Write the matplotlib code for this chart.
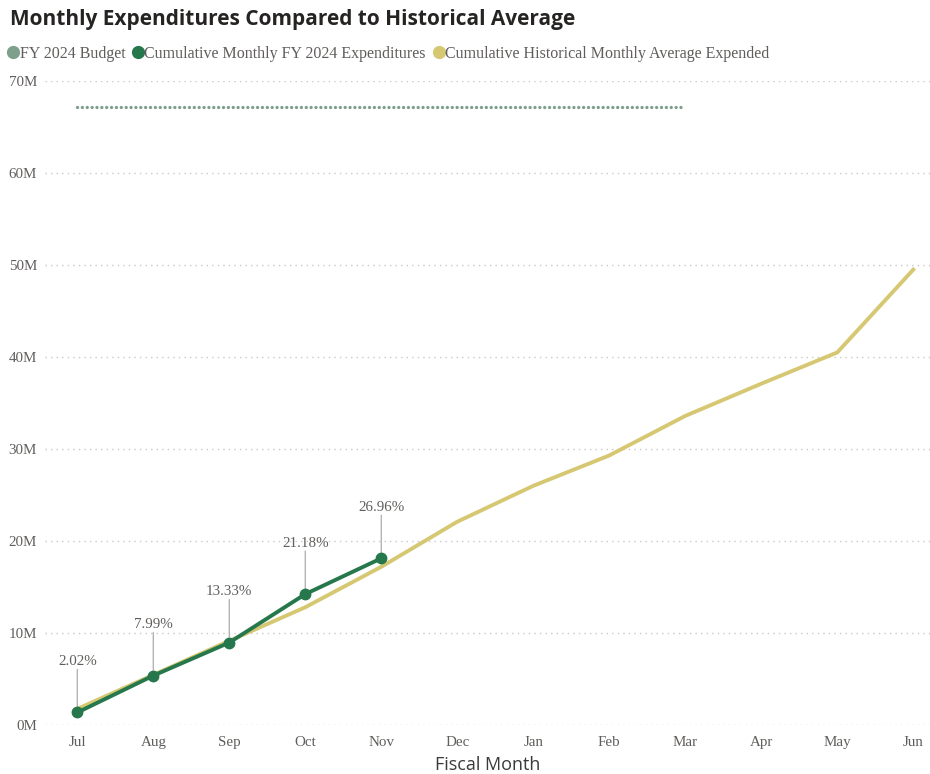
import numpy as np
from matplotlib import pyplot as plt
from matplotlib.lines import Line2D

# Data (values in millions).
months = ['Jul', 'Aug', 'Sep', 'Oct', 'Nov', 'Dec', 'Jan', 'Feb', 'Mar', 'Apr', 'May', 'Jun']
budget = [67.2] * 9  # Jul..Mar
expenditures = [1.36, 5.37, 8.96, 14.23, 18.12]  # Jul..Nov
pct_labels = ['2.02%', '7.99%', '13.33%', '21.18%', '26.96%']
historical = [1.75, 5.45, 9.15, 12.8, 17.2, 22.1, 26.0, 29.3, 33.6, 37.1, 40.5, 49.5]

budget_color = '#7d9f8c'
exp_color = '#26784c'
hist_color = '#d6c873'
text_gray = '#605e5c'

serif = ['Liberation Serif', 'DejaVu Serif']
sans = ['Open Sans', 'DejaVu Sans']

fig = plt.figure(figsize=(9.3, 7.74), dpi=100)
ax = fig.add_axes([0.048, 0.0633, 0.952, 0.832])

x = np.arange(len(months))
ax.plot(x[:len(budget)], budget, color=budget_color, lw=2.4, ls=(0, (0.01, 1.45)),
        dash_capstyle='round')
ax.plot(x, historical, color=hist_color, lw=2.8, solid_joinstyle='round')
ax.plot(x[:len(expenditures)], expenditures, color=exp_color, lw=2.8,
        marker='o', ms=7.5, clip_on=False, zorder=4)

# Data labels with leader lines.
for xi, yi, lab in zip(x, expenditures, pct_labels):
    ax.annotate('', xy=(xi, yi), xytext=(0, 31), textcoords='offset points',
                arrowprops=dict(arrowstyle='-', color='#b3b3b3', lw=1,
                                shrinkA=0, shrinkB=4), zorder=3)
    ax.annotate(lab, xy=(xi, yi), xytext=(0, 32), textcoords='offset points',
                ha='center', va='bottom', fontsize=10.8, color=text_gray,
                family=serif)

ax.set_xlim(-0.43, 11.22)
ax.set_ylim(0, 70)
ax.set_yticks(np.arange(0, 71, 10))
ax.set_yticklabels([f'{v}M' for v in range(0, 71, 10)])
ax.set_xticks(x)
ax.set_xticklabels(months)
ax.grid(axis='y', color='#c8c8c8', ls=(0, (1, 3)), lw=1)
ax.set_axisbelow(True)
for s in ax.spines.values():
    s.set_visible(False)
ax.tick_params(length=0, labelsize=10.8, labelcolor=text_gray, pad=8)
ax.tick_params(axis='y', pad=5.5)
for lab in ax.get_xticklabels() + ax.get_yticklabels():
    lab.set_family(serif)
ax.set_xlabel('Fiscal Month', fontsize=13, color='#3a3a3a', family=sans, labelpad=5)

fig.text(0.011, 0.988, 'Monthly Expenditures Compared to Historical Average',
         fontsize=15, fontweight='bold', color='#252423', family=sans, va='top')

handles = [Line2D([], [], ls='none', marker='o', ms=8.5, color=c)
           for c in (budget_color, exp_color, hist_color)]
names = ['FY 2024 Budget', 'Cumulative Monthly FY 2024 Expenditures',
         'Cumulative Historical Monthly Average Expended']
fig.legend(handles, names, loc='upper left', bbox_to_anchor=(0.004, 0.947), ncol=3,
           frameon=False, handlelength=0.6, handletextpad=0.1, columnspacing=0.5,
           borderaxespad=0, borderpad=0.3,
           prop={'family': serif, 'size': 11.5}, labelcolor=text_gray)

fig.savefig('out.png', dpi=100)
